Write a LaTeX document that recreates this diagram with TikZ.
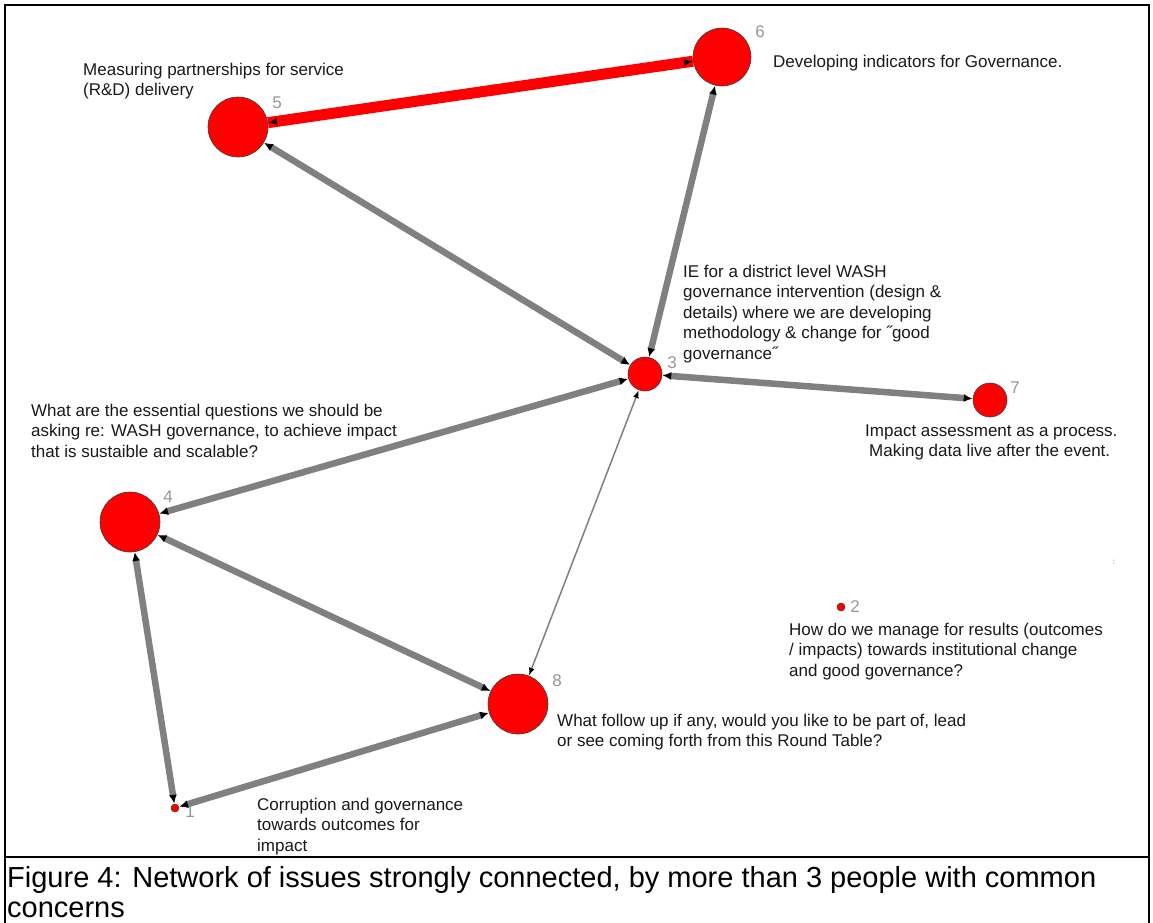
\documentclass[tikz,border=0pt]{standalone}
\usepackage{fontspec}
\setmainfont{Liberation Sans}
\usetikzlibrary{arrows.meta}
\definecolor{issuered}{RGB}{255,0,0}
\definecolor{linkgrey}{RGB}{128,128,128}
\definecolor{numgrey}{RGB}{150,150,150}

\begin{document}
\begin{tikzpicture}[x=1pt,y=-1pt,
  issue/.style={circle,fill=issuered,draw=black!75,line width=0.6pt,inner sep=0pt},
  num/.style={text=numgrey,font=\fontsize{17}{20}\selectfont,inner sep=0pt},
  note/.style={anchor=north west,align=left,inner sep=0pt,text=black!90,
    font=\fontsize{17}{20.5}\selectfont},
  link/.style={draw=linkgrey,line width=6.5pt,<->,
    >={Latex[length=9pt,width=8pt,color=black]}},
  thinlink/.style={draw=linkgrey,line width=1.5pt,<->,
    >={Latex[length=8pt,width=6pt,color=black]}},
]
\useasboundingbox (0,0) rectangle (1153,922);

% frame and caption rule
\draw[line width=2.5pt] (5,5) rectangle (1149,940);
\draw[line width=2.5pt] (5,857) -- (1149,857);

% issues
\node[issue,minimum size=60pt] (n5) at (238,127) {};
\node[issue,minimum size=58pt] (n6) at (722,57) {};
\node[issue,minimum size=34pt] (n3) at (645,374) {};
\node[issue,minimum size=34pt] (n7) at (990,400) {};
\node[issue,minimum size=60pt] (n4) at (130,522) {};
\node[issue,minimum size=60pt] (n8) at (518,704) {};
\node[issue,minimum size=8pt] (n2) at (841,607) {};
\node[issue,minimum size=8pt] (n1) at (175,808) {};

% numbers
\node[num] (l5) at (277,103) {5};
\node[num] (l6) at (760,32) {6};
\node[num] (l3) at (672,363) {3};
\node[num] (l7) at (1015,388) {7};
\node[num] (l4) at (168,497) {4};
\node[num] (l8) at (557,681) {8};
\node[num] (l2) at (855,607) {2};
\node[num] (l1) at (190,812) {1};

% links
\draw[line width=11pt,issuered] (n5) -- (n6);
\draw[line width=2pt,issuered,<->,>={Latex[length=9pt,width=7pt,color=black]}] (n5) -- (n6);
\foreach \a/\b in {n5/n3,n6/n3,n3/n7,n3/n4,n4/n8,n4/n1,n1/n8}
  \draw[link] (\a) -- (\b);
\draw[thinlink] (n3) -- (n8);

% issue texts
\node[note] (t5) at (83,62.5) {Measuring partnerships for service\\(R\&D) delivery};
\node[note] (t6) at (773,54.5) {Developing indicators for Governance.};
\node[note] (t3) at (683,264.5) {IE for a district level WASH\\governance intervention (design \&\\details) where we are developing\\methodology \& change for ˝good\\governance˝};
\node[note] (t7) at (865,424.5) {Impact assessment as a process.\\\hspace*{4pt}Making data live after the event.};
\node[note] (t4) at (31,403.5) {What are the essential questions we should be\\asking re: WASH governance, to achieve impact\\that is sustaible and scalable?};
\node[note] (t2) at (789,622.5) {How do we manage for results (outcomes\\/ impacts) towards institutional change\\and good governance?};
\node[note] (t8) at (557,713.5) {What follow up if any, would you like to be part of, lead\\or see coming forth from this Round Table?};
\node[note] (t1) at (257,797.5) {Corruption and governance\\towards outcomes for\\impact};
\node[text=black!60,font=\fontsize{8}{8}\selectfont,inner sep=0pt] (mark) at (1114,562) {:};

% caption
\node[anchor=north west,align=left,inner sep=0pt,font=\fontsize{29}{30}\selectfont] (cap) at (7,866)
  {Figure 4: Network of issues strongly connected, by more than 3 people with common\\concerns};
\end{tikzpicture}
\end{document}
